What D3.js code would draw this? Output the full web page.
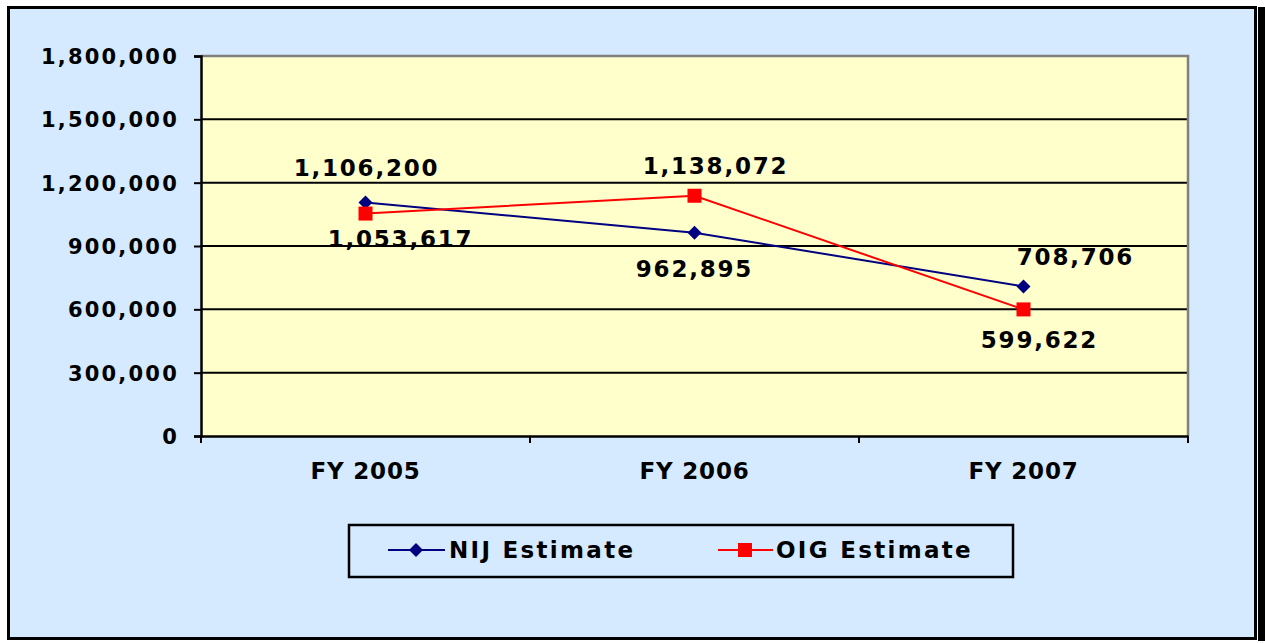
<!DOCTYPE html>
<html>
<head>
<meta charset="utf-8">
<script src="https://cdn.jsdelivr.net/npm/d3@7"></script>
<style>
  body { margin: 0; background: #fff; }
  text { font-family: "DejaVu Sans", Verdana, sans-serif; font-weight: bold; fill: #000; }
</style>
</head>
<body>
<svg id="chart" width="1265" height="643"></svg>
<script>
// chart data
var categories = ["FY 2005", "FY 2006", "FY 2007"];
var nijValues = [1106200, 962895, 708706];
var oigValues = [1053617, 1138072, 599622];
var yTicks = [0, 300000, 600000, 900000, 1200000, 1500000, 1800000];
var seriesNames = ["NIJ Estimate", "OIG Estimate"];

// label offsets from each point (layout only)
var nijLabelOffset = [[1, -26], [0, 44], [52, -21]];
var oigLabelOffset = [[35, 33], [21, -22], [16, 39]];

var svg = d3.select("#chart");

// outer frame + shadow bar on the right
svg.append("rect")
    .attr("x", 8.5).attr("y", 7.5)
    .attr("width", 1247).attr("height", 631)
    .style("fill", "#d5eaff")
    .style("stroke", "#000")
    .style("stroke-width", 3);
svg.append("rect")
    .attr("x", 1258).attr("y", 7)
    .attr("width", 7).attr("height", 634)
    .style("fill", "#000");

var margin = {left: 201, right: 1188, top: 56, bottom: 436};

var x = d3.scaleBand().domain(categories).range([margin.left, margin.right]);
var y = d3.scaleLinear().domain([0, 1800000]).range([margin.bottom, margin.top]);

// plot area
svg.append("rect")
    .attr("x", margin.left).attr("y", margin.top)
    .attr("width", margin.right - margin.left)
    .attr("height", margin.bottom - margin.top)
    .style("fill", "#ffffcc");

// gridlines
svg.append("g").selectAll("line")
    .data(yTicks.filter(function (d) { return d > 0 && d < 1800000; }))
    .enter().append("line")
    .attr("x1", margin.left).attr("x2", margin.right)
    .attr("y1", function (d) { return y(d); })
    .attr("y2", function (d) { return y(d); })
    .style("stroke", "#000").style("stroke-width", 2);

// gray top/right border
svg.append("path")
    .attr("d", "M" + margin.left + "," + margin.top + "H" + margin.right + "V" + margin.bottom)
    .style("fill", "none").style("stroke", "#808080").style("stroke-width", 2.5);

// y axis
var yAxis = svg.append("g")
    .attr("transform", "translate(" + margin.left + ",0)")
    .call(d3.axisLeft(y).tickValues(yTicks).tickSize(7).tickPadding(15)
        .tickFormat(d3.format(",")));
yAxis.select(".domain").style("stroke-width", 2.5);
yAxis.selectAll(".tick line").style("stroke-width", 2);
yAxis.selectAll("text").style("font-size", "21px").style("font-family", null)
    .attr("dy", "0.36em").attr("letter-spacing", "2.2px");

// x axis
var xAxis = svg.append("g")
    .attr("transform", "translate(0," + margin.bottom + ")")
    .call(d3.axisBottom(x).tickSize(0).tickPadding(27));
xAxis.select(".domain").style("stroke-width", 2.5);
xAxis.selectAll("text").style("font-size", "23px").style("font-family", null)
    .attr("letter-spacing", "0.8px");
// category boundary ticks
xAxis.selectAll(".bound")
    .data(categories.concat(["end"]))
    .enter().append("line")
    .attr("class", "bound")
    .attr("x1", function (d, i) { return margin.left + i * x.bandwidth(); })
    .attr("x2", function (d, i) { return margin.left + i * x.bandwidth(); })
    .attr("y1", 0).attr("y2", 7)
    .style("stroke", "#000").style("stroke-width", 2);

var cx = function (d, i) { return x(categories[i]) + x.bandwidth() / 2; };
var line = d3.line().x(cx).y(function (d) { return y(d); });

// NIJ series
svg.append("path").datum(nijValues)
    .attr("d", line)
    .style("fill", "none").style("stroke", "#000080").style("stroke-width", 2);
svg.append("g").selectAll("path")
    .data(nijValues).enter().append("path")
    .attr("transform", function (d, i) { return "translate(" + cx(d, i) + "," + y(d) + ")"; })
    .attr("d", "M0,-7L7,0L0,7L-7,0Z")
    .style("fill", "#000080");

// OIG series
svg.append("path").datum(oigValues)
    .attr("d", line)
    .style("fill", "none").style("stroke", "#ff0000").style("stroke-width", 2);
svg.append("g").selectAll("rect")
    .data(oigValues).enter().append("rect")
    .attr("x", function (d, i) { return cx(d, i) - 7; })
    .attr("y", function (d) { return y(d) - 7; })
    .attr("width", 14).attr("height", 14)
    .style("fill", "#ff0000");

// data labels
var fmt = d3.format(",");
svg.append("g").selectAll("text")
    .data(nijValues).enter().append("text")
    .attr("x", function (d, i) { return cx(d, i) + nijLabelOffset[i][0]; })
    .attr("y", function (d, i) { return y(d) + nijLabelOffset[i][1]; })
    .attr("text-anchor", "middle")
    .attr("letter-spacing", "1.8px")
    .style("font-size", "23px")
    .text(fmt);
svg.append("g").selectAll("text")
    .data(oigValues).enter().append("text")
    .attr("x", function (d, i) { return cx(d, i) + oigLabelOffset[i][0]; })
    .attr("y", function (d, i) { return y(d) + oigLabelOffset[i][1]; })
    .attr("text-anchor", "middle")
    .attr("letter-spacing", "1.8px")
    .style("font-size", "23px")
    .text(fmt);

// legend
var legend = svg.append("g");
legend.append("rect")
    .attr("x", 349).attr("y", 525)
    .attr("width", 664).attr("height", 52)
    .style("fill", "none").style("stroke", "#000").style("stroke-width", 2.5);

var nij = legend.append("g").attr("transform", "translate(388,550)");
nij.append("line").attr("x1", 0).attr("x2", 57)
    .style("stroke", "#000080").style("stroke-width", 2);
nij.append("path").attr("d", "M28,-7L35,0L28,7L21,0Z").style("fill", "#000080");
nij.append("text").attr("x", 61).attr("dy", "0.36em")
    .attr("letter-spacing", "2.3px")
    .style("font-size", "23px").text(seriesNames[0]);

var oig = legend.append("g").attr("transform", "translate(718,550)");
oig.append("line").attr("x1", 0).attr("x2", 55)
    .style("stroke", "#ff0000").style("stroke-width", 2);
oig.append("rect").attr("x", 20).attr("y", -7).attr("width", 14).attr("height", 14)
    .style("fill", "#ff0000");
oig.append("text").attr("x", 58).attr("dy", "0.36em")
    .attr("letter-spacing", "2.3px")
    .style("font-size", "23px").text(seriesNames[1]);
</script>
</body>
</html>
